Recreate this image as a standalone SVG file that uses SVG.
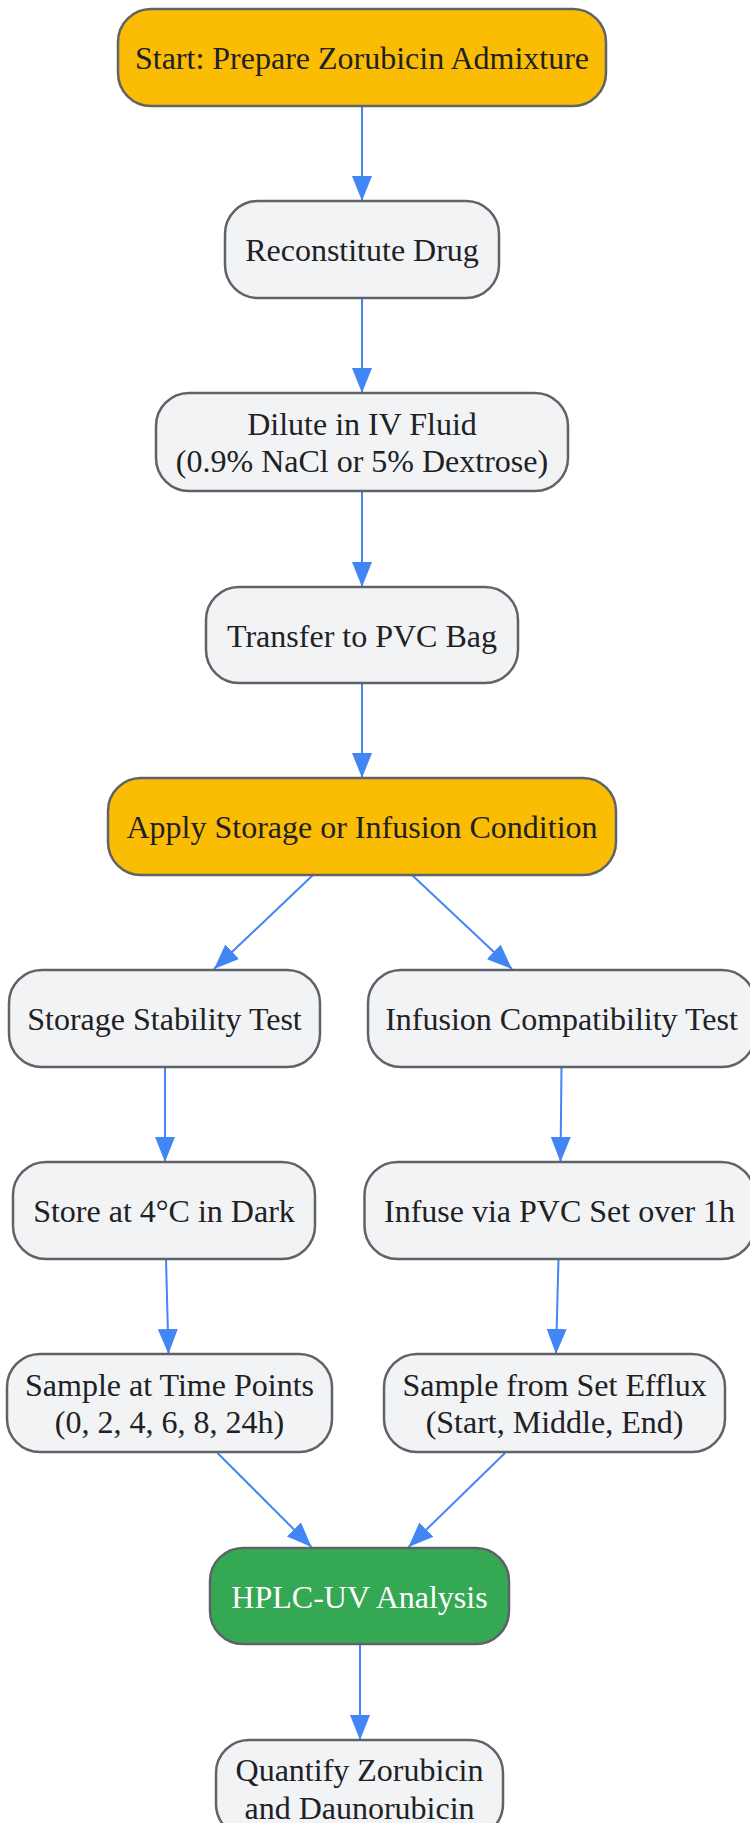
<svg xmlns="http://www.w3.org/2000/svg" width="750" height="1823" viewBox="0 0 750 1823">
<defs>
<marker id="arr" viewBox="0 0 25 20" refX="25" refY="10" markerWidth="25" markerHeight="20" markerUnits="userSpaceOnUse" orient="auto">
<path d="M0,0 L25,10 L0,20 z" fill="#4285F4"/>
</marker>
<style>
.box{stroke:#5F6368;stroke-width:2.5}
.gray{fill:#F1F3F4}
.orange{fill:#FBBC04}
.green{fill:#34A853}
text{font-family:"Liberation Serif","Times New Roman",serif;font-size:32px;fill:#202124;text-anchor:middle}
text.light{fill:#FFFFFF}
.edge{stroke:#4285F4;stroke-width:2;fill:none;marker-end:url(#arr)}
</style>
</defs>
<rect width="750" height="1823" fill="#FFFFFF"/>
<g id="edges">
<path class="edge" d="M362,106 L362,201"/>
<path class="edge" d="M362,298 L362,393"/>
<path class="edge" d="M362,491 L362,587"/>
<path class="edge" d="M362,683 L362,778"/>
<path class="edge" d="M313,875 L214,969"/>
<path class="edge" d="M412,875 L512,969"/>
<path class="edge" d="M165,1067 L165,1162"/>
<path class="edge" d="M166,1259 L168.5,1354"/>
<path class="edge" d="M561.5,1067 L560.5,1162"/>
<path class="edge" d="M558.5,1259 L556,1354"/>
<path class="edge" d="M217.5,1453 L311.5,1547"/>
<path class="edge" d="M505,1453 L408.5,1547"/>
<path class="edge" d="M360,1644 L360,1740"/>
</g>
<g id="start">
<rect class="box orange" x="118" y="9" width="488" height="97" rx="33"/>
<text x="362" y="69">Start: Prepare Zorubicin Admixture</text>
</g>
<g id="reconstitute">
<rect class="box gray" x="225" y="201" width="274" height="97" rx="33"/>
<text x="362" y="261">Reconstitute Drug</text>
</g>
<g id="dilute">
<rect class="box gray" x="156" y="393" width="412" height="98" rx="33"/>
<text x="362" y="434.6">Dilute in IV Fluid</text>
<text x="362" y="472.4">(0.9% NaCl or 5% Dextrose)</text>
</g>
<g id="transfer">
<rect class="box gray" x="206" y="587" width="312" height="96" rx="33"/>
<text x="362" y="646.5">Transfer to PVC Bag</text>
</g>
<g id="apply">
<rect class="box orange" x="108" y="778" width="508" height="97" rx="33"/>
<text x="362" y="838">Apply Storage or Infusion Condition</text>
</g>
<g id="storage">
<rect class="box gray" x="9" y="970" width="311" height="97" rx="33"/>
<text x="164.5" y="1030">Storage Stability Test</text>
</g>
<g id="infusion">
<rect class="box gray" x="368" y="970" width="387" height="97" rx="33"/>
<text x="561.5" y="1030">Infusion Compatibility Test</text>
</g>
<g id="store">
<rect class="box gray" x="13" y="1162" width="302" height="97" rx="33"/>
<text x="164" y="1222">Store at 4°C in Dark</text>
</g>
<g id="infuse">
<rect class="box gray" x="364.5" y="1162" width="390" height="97" rx="33"/>
<text x="559.5" y="1222">Infuse via PVC Set over 1h</text>
</g>
<g id="sample-time">
<rect class="box gray" x="7" y="1354" width="325" height="98" rx="33"/>
<text x="169.5" y="1395.6">Sample at Time Points</text>
<text x="169.5" y="1433.4">(0, 2, 4, 6, 8, 24h)</text>
</g>
<g id="sample-efflux">
<rect class="box gray" x="384" y="1354" width="341" height="98" rx="33"/>
<text x="554.5" y="1395.6">Sample from Set Efflux</text>
<text x="554.5" y="1433.4">(Start, Middle, End)</text>
</g>
<g id="hplc">
<rect class="box green" x="210" y="1548" width="299" height="96" rx="33"/>
<text class="light" x="359.5" y="1607.5">HPLC-UV Analysis</text>
</g>
<g id="quantify">
<rect class="box gray" x="216" y="1740" width="287" height="97" rx="33"/>
<text x="359.5" y="1781">Quantify Zorubicin</text>
<text x="359.5" y="1818.9">and Daunorubicin</text>
</g>
</svg>
